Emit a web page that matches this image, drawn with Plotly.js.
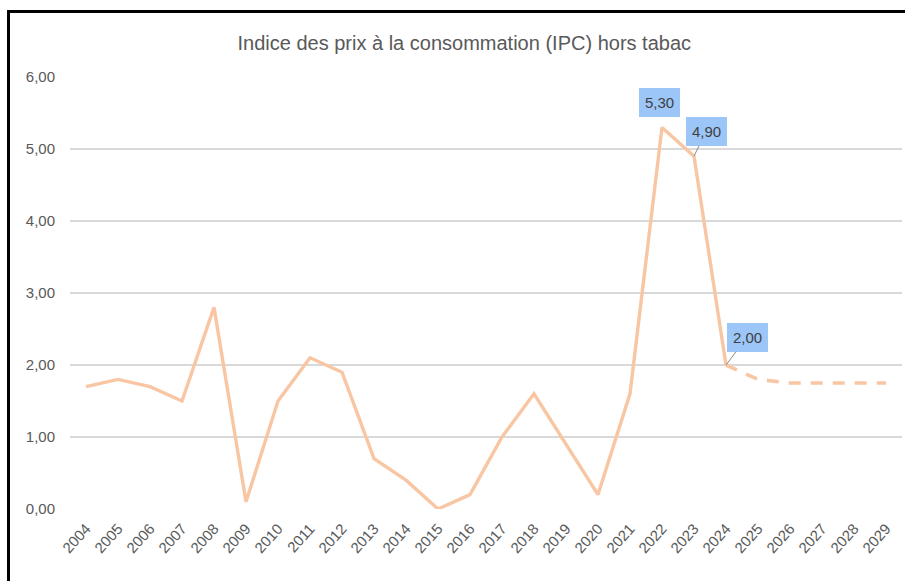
<!DOCTYPE html>
<html>
<head>
<meta charset="utf-8">
<script src="https://cdn.plot.ly/plotly-3.0.1.min.js"></script>
<style>
  html, body { margin: 0; padding: 0; background: #fff; }
  #wrap { position: relative; width: 905px; height: 581px; overflow: hidden; }
  #chart { position: absolute; left: 0; top: 0; width: 905px; height: 581px; }
  #frame { position: absolute; left: 7px; top: 10px; width: 910px; height: 600px;
           border-left: 3px solid #000; border-top: 3px solid #000; pointer-events: none; }
</style>
</head>
<body>
<div id="wrap">
  <div id="chart"></div>
  <div id="frame"></div>
</div>
<script>
// Data
const yearsActual = [2004, 2005, 2006, 2007, 2008, 2009, 2010, 2011, 2012, 2013, 2014, 2015, 2016, 2017, 2018, 2019, 2020, 2021, 2022, 2023, 2024];
const valuesActual = [1.7, 1.8, 1.7, 1.5, 2.8, 0.1, 1.5, 2.1, 1.9, 0.7, 0.4, 0.0, 0.2, 1.0, 1.6, 0.9, 0.2, 1.6, 5.3, 4.9, 2.0];
const yearsForecast = [2024, 2025, 2026, 2027, 2028, 2029];
const valuesForecast = [2.0, 1.8, 1.75, 1.75, 1.75, 1.75];
const tickYears = [2004, 2005, 2006, 2007, 2008, 2009, 2010, 2011, 2012, 2013, 2014, 2015, 2016, 2017, 2018, 2019, 2020, 2021, 2022, 2023, 2024, 2025, 2026, 2027, 2028, 2029];
const labelYears = [2022, 2023, 2024];
const labelValues = [5.3, 4.9, 2.0];
const labelTexts = ["5,30", "4,90", "2,00"];

const lineColor = '#F8C6A3';
const fontFam = 'Liberation Sans, Arial, sans-serif';

const traces = [
  { x: yearsActual, y: valuesActual, type: 'scatter', mode: 'lines',
    line: { color: lineColor, width: 3.4 }, cliponaxis: false, hoverinfo: 'skip' },
  { x: yearsForecast, y: valuesForecast, type: 'scatter', mode: 'lines',
    line: { color: lineColor, width: 3.6, dash: '12px,10px' }, cliponaxis: false, hoverinfo: 'skip' }
];

const offsets = [ {ax: -3, ay: -25, arrow: false}, {ax: 12, ay: -25, arrow: true}, {ax: 21, ay: -28, arrow: true} ];
const annotations = labelYears.map((yr, i) => ({
  x: yr, y: labelValues[i], xref: 'x', yref: 'y',
  text: labelTexts[i],
  showarrow: true,
  arrowhead: 0, arrowwidth: 1, arrowcolor: offsets[i].arrow ? '#8a8a8a' : 'rgba(0,0,0,0)',
  ax: offsets[i].ax, ay: offsets[i].ay,
  bgcolor: '#9CC6F8', borderpad: 6, borderwidth: 0,
  font: { family: fontFam, size: 15, color: '#3f3f3f' }
}));

const layout = {
  width: 905, height: 581,
  margin: { l: 70, r: 3, t: 77, b: 72 },
  paper_bgcolor: '#fff', plot_bgcolor: '#fff',
  showlegend: false,
  separators: ', ',
  title: { text: 'Indice des prix à la consommation (IPC) hors tabac',
           x: 0.513, xanchor: 'center', y: 0.926, yanchor: 'middle',
           font: { family: fontFam, size: 20, color: '#595959' } },
  xaxis: {
    type: 'linear', range: [2003.5, 2029.5],
    tickmode: 'array', tickvals: tickYears, ticktext: tickYears.map(String),
    tickangle: -48, showgrid: false, zeroline: false, showline: false, ticks: '',
    tickfont: { family: fontFam, size: 15, color: '#595959' },
    ticklabelstandoff: 7,
    fixedrange: true
  },
  yaxis: {
    range: [0, 6], dtick: 1, tick0: 0, tickformat: '.2f',
    showgrid: true, gridcolor: '#d9d9d9', gridwidth: 1.6,
    zeroline: false, showline: false, ticks: '',
    tickfont: { family: fontFam, size: 15, color: '#595959' },
    ticklabelstandoff: 14,
    fixedrange: true
  },
  annotations: annotations
};

Plotly.newPlot('chart', traces, layout, { displayModeBar: false, staticPlot: true });
</script>
</body>
</html>
